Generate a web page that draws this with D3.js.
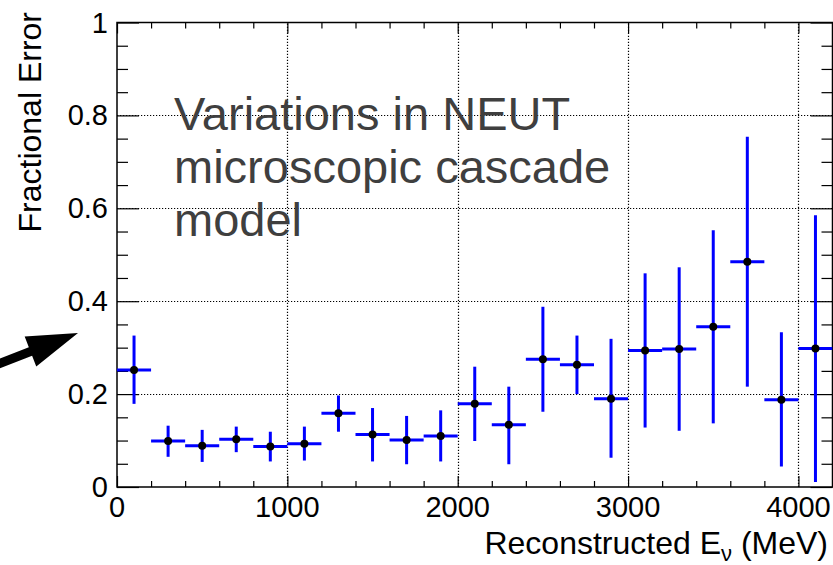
<!DOCTYPE html>
<html><head><meta charset="utf-8">
<script src="https://cdn.jsdelivr.net/npm/d3@7"></script>
<style>
html,body{margin:0;padding:0;background:#fff;}
svg{display:block;font-family:"Liberation Sans",Arial,Helvetica,sans-serif;}
</style></head>
<body><svg id="c" width="833" height="565"></svg>
<script>
// ---- data ----
const binCenters = [100,300,500,700,900,1100,1300,1500,1700,1900,2100,2300,2500,2700,2900,3100,3300,3500,3700,3900,4100];
const binHalfWidth = 100;
const fracError = [0.252,0.099,0.089,0.103,0.087,0.093,0.159,0.113,0.101,0.110,0.179,0.134,0.275,0.263,0.190,0.294,0.297,0.345,0.485,0.188,0.298];
const errUpper  = [0.326,0.132,0.123,0.130,0.119,0.130,0.197,0.170,0.153,0.165,0.259,0.216,0.388,0.326,0.319,0.460,0.473,0.553,0.754,0.333,0.585];
const errLower  = [0.179,0.065,0.054,0.075,0.055,0.057,0.119,0.055,0.049,0.055,0.099,0.049,0.162,0.200,0.063,0.128,0.121,0.137,0.216,0.044,0.011];
const xTicks = [0,1000,2000,3000,4000];
const xMinorTicks = [200,400,600,800,1200,1400,1600,1800,2200,2400,2600,2800,3200,3400,3600,3800,4200];
const yTicks = [0,0.2,0.4,0.6,0.8,1];
const yTickLabels = ["0","0.2","0.4","0.6","0.8","1"];
const yMinorTicks = [0.05,0.1,0.15,0.25,0.3,0.35,0.45,0.5,0.55,0.65,0.7,0.75,0.85,0.9,0.95];
const xTitle = "Reconstructed E";
const xTitleSub = "\u03BD";
const xTitleUnit = " (MeV)";
const yTitle = "Fractional Error";
const noteLines = ["Variations in NEUT","microscopic cascade","model"];

// ---- layout ----
const L = 117, R = 832.5, T = 22.5, B = 487;
const svg = d3.select("#c");
const x = d3.scaleLinear().domain([0,4200]).range([L,R]);
const y = d3.scaleLinear().domain([0,1]).range([B,T]);

// grid
const grid = svg.append("g").attr("stroke","#000").attr("stroke-width",1.2).attr("stroke-dasharray","1.2,1.8");
grid.selectAll("line.gx").data(xTicks.filter(d=>d>0)).join("line")
  .attr("x1",d=>Math.round(x(d))+0.5).attr("x2",d=>Math.round(x(d))+0.5).attr("y1",B).attr("y2",T);
grid.selectAll("line.gy").data(yTicks.filter(d=>d>0&&d<1)).join("line")
  .attr("y1",d=>Math.round(y(d))+0.5).attr("y2",d=>Math.round(y(d))+0.5).attr("x1",L).attr("x2",R);

// note text
const note = svg.append("text").attr("x",174).attr("y",130).attr("fill","#3f3f3f")
  .style("font-size","47px");
note.selectAll("tspan").data(noteLines).join("tspan")
  .attr("x",174).attr("dy",(d,i)=>i===0?0:53).text(d=>d);

// axes (ticks inward)
const ax = svg.append("g");
function mkAxis(g, axisFn, scale, vals, size){
  g.call(axisFn(scale).tickValues(vals).tickSize(size).tickFormat(""));
  g.select(".domain").remove();
  g.selectAll(".tick line").attr("stroke","#000").attr("stroke-width",1.2);
}
mkAxis(ax.append("g").attr("transform",`translate(0,${B})`), d3.axisTop, x, xTicks, 11);
mkAxis(ax.append("g").attr("transform",`translate(0,${B})`), d3.axisTop, x, xMinorTicks, 6);
mkAxis(ax.append("g").attr("transform",`translate(0,${T})`), d3.axisBottom, x, xTicks, 11);
mkAxis(ax.append("g").attr("transform",`translate(0,${T})`), d3.axisBottom, x, xMinorTicks, 6);
mkAxis(ax.append("g").attr("transform",`translate(${L},0)`), d3.axisRight, y, yTicks, 22);
mkAxis(ax.append("g").attr("transform",`translate(${L},0)`), d3.axisRight, y, yMinorTicks, 11);
mkAxis(ax.append("g").attr("transform",`translate(${R},0)`), d3.axisLeft, y, yTicks, 22);
mkAxis(ax.append("g").attr("transform",`translate(${R},0)`), d3.axisLeft, y, yMinorTicks, 11);
svg.append("rect").attr("x",L).attr("y",T).attr("width",R-L).attr("height",B-T)
  .attr("fill","none").attr("stroke","#000").attr("stroke-width",1.5);

// tick labels
svg.append("g").selectAll("text").data(yTicks).join("text")
  .attr("x",108).attr("y",d=>y(d)+10).attr("text-anchor","end").style("font-size","29px")
  .text((d,i)=>yTickLabels[i]);
svg.append("g").selectAll("text").data(xTicks).join("text")
  .attr("x",d=>x(d)).attr("y",517).attr("text-anchor","middle").style("font-size","29px")
  .text(d=>d3.format("d")(d));

// titles
const xt = svg.append("text").attr("x",828).attr("y",554).attr("text-anchor","end").style("font-size","32px");
xt.append("tspan").text(xTitle);
xt.append("tspan").attr("dy",7).style("font-size","22px").text(xTitleSub);
xt.append("tspan").attr("dy",-7).text(xTitleUnit);
svg.append("text").attr("transform","translate(41,12) rotate(-90)").attr("text-anchor","end")
  .style("font-size","32px").text(yTitle);

// data
const data = binCenters.map((c,i)=>({c, v:fracError[i], hi:errUpper[i], lo:errLower[i]}));
svg.append("clipPath").attr("id","clip").append("rect").attr("x",L).attr("y",T).attr("width",R-L).attr("height",B-T);
const dg = svg.append("g").attr("clip-path","url(#clip)");
dg.selectAll("line.h").data(data).join("line").attr("class","h")
  .attr("x1",d=>x(d.c-binHalfWidth)).attr("x2",d=>x(d.c+binHalfWidth))
  .attr("y1",d=>y(d.v)).attr("y2",d=>y(d.v)).attr("stroke","#0000ff").attr("stroke-width",3);
dg.selectAll("line.v").data(data).join("line").attr("class","v")
  .attr("x1",d=>x(d.c)).attr("x2",d=>x(d.c))
  .attr("y1",d=>y(d.lo)).attr("y2",d=>y(d.hi)).attr("stroke","#0000ff").attr("stroke-width",3);
dg.selectAll("circle").data(data).join("circle")
  .attr("cx",d=>x(d.c)).attr("cy",d=>y(d.v)).attr("r",4).attr("fill","#000");

// arrow annotation
(function(){
  const tip=[78,333], tail=[-12,368];
  const ang=Math.atan2(tip[1]-tail[1], tip[0]-tail[0]);
  const len=Math.hypot(tip[0]-tail[0], tip[1]-tail[1]);
  const hl=51, hw=16, sw=4.5;
  const pts=[[0,-sw],[len-hl,-sw],[len-hl,-hw],[len,0],[len-hl,hw],[len-hl,sw],[0,sw]];
  svg.append("polygon").attr("fill","#000")
    .attr("points",pts.map(p=>p.join(",")).join(" "))
    .attr("transform",`translate(${tail[0]},${tail[1]}) rotate(${ang*180/Math.PI})`);
})();
</script></body></html>
